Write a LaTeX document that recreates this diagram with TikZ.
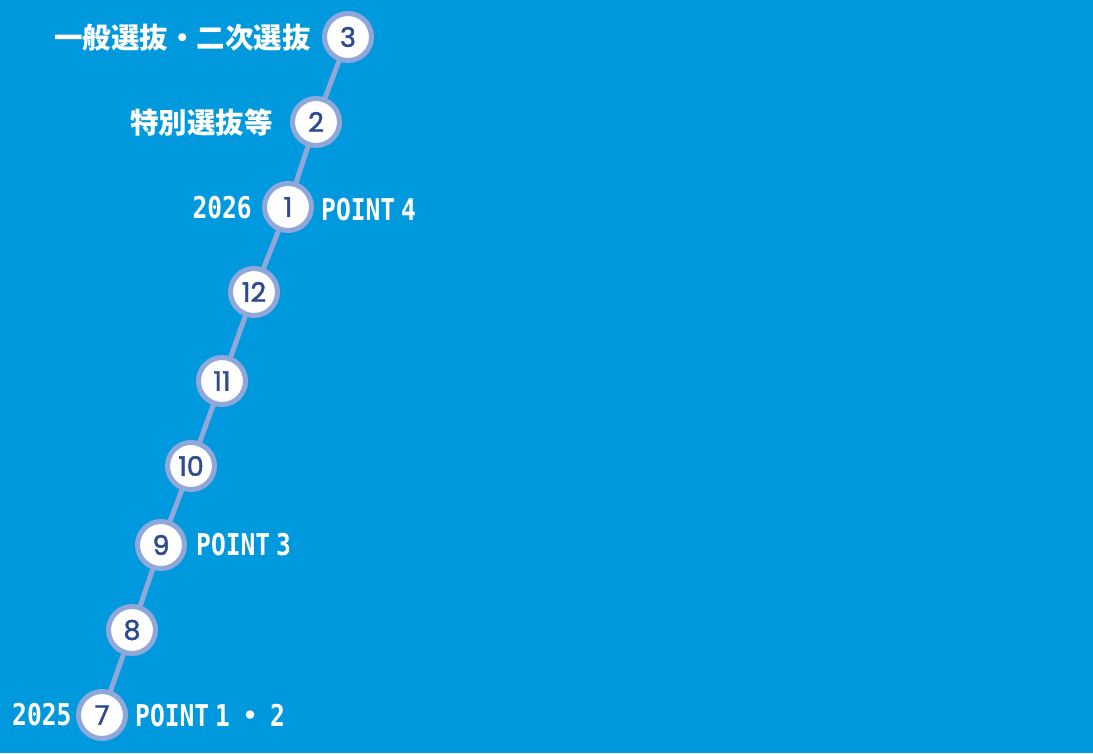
\documentclass[tikz,border=0pt]{standalone}
\usepackage{fontspec}
\newfontfamily\jpfont{Noto Sans CJK JP}
\newfontfamily\condfont[FakeStretch=0.82]{DejaVu Sans Mono}
\newfontfamily\numfont[FakeBold=1.6]{Poppins}
\definecolor{bgblue}{HTML}{0099DD}
\definecolor{ringc}{HTML}{8FA7D9}
\definecolor{navy}{HTML}{2D4B8E}
\tikzset{
  month/.style={circle,draw=ringc,line width=5pt,fill=white,minimum size=47pt,inner sep=0pt,outer sep=0pt,
    font=\numfont\fontsize{27}{27}\selectfont,text=navy},
  jplabel/.style={font=\jpfont\bfseries\fontsize{28.5}{28.5}\selectfont,text=white,inner sep=0pt},
  ptlabel/.style={font=\condfont\bfseries\fontsize{30}{30}\selectfont,text=white,inner sep=0pt},
  link/.style={draw=ringc,line width=5pt}
}
\begin{document}
\begin{tikzpicture}[x=1pt,y=-1pt]
\fill[bgblue] (0,0) rectangle (1093,753);
\useasboundingbox (0,0) rectangle (1093,753);
\node[month] (m3) at (348,37) {3};
\node[month] (m2) at (316,122) {2};
\node[month] (m1) at (288,207) {1};
\node[month] (m12) at (254,292) {12};
\node[month] (m11) at (222,381) {11};
\node[month] (m10) at (191,466) {10};
\node[month] (m9) at (161,545) {9};
\node[month] (m8) at (132,630) {8};
\node[month] (m7) at (102,715) {7};
\draw[link] (m3) -- (m2);
\draw[link] (m2) -- (m1);
\draw[link] (m1) -- (m12);
\draw[link] (m12) -- (m11);
\draw[link] (m11) -- (m10);
\draw[link] (m10) -- (m9);
\draw[link] (m9) -- (m8);
\draw[link] (m8) -- (m7);
\node[jplabel,anchor=east] (t3) at (311,38) {一般選抜・二次選抜};
\node[jplabel,anchor=east] (t2) at (273,123) {特別選抜等};
\node[ptlabel,anchor=east] (y26) at (252,208) {2026};
\node[ptlabel,anchor=west] (p4) at (321,210) {POINT\hspace{6pt}4};
\node[ptlabel,anchor=west] (p3) at (196,545) {POINT\hspace{6pt}3};
\node[ptlabel,anchor=west] (y25) at (12,715) {2025};
\node[ptlabel,anchor=west] (p12) at (135,716) {POINT\hspace{6pt}1\hspace{5pt}{\jpfont\bfseries ・}\hspace{5pt}2};
\end{tikzpicture}
\end{document}
